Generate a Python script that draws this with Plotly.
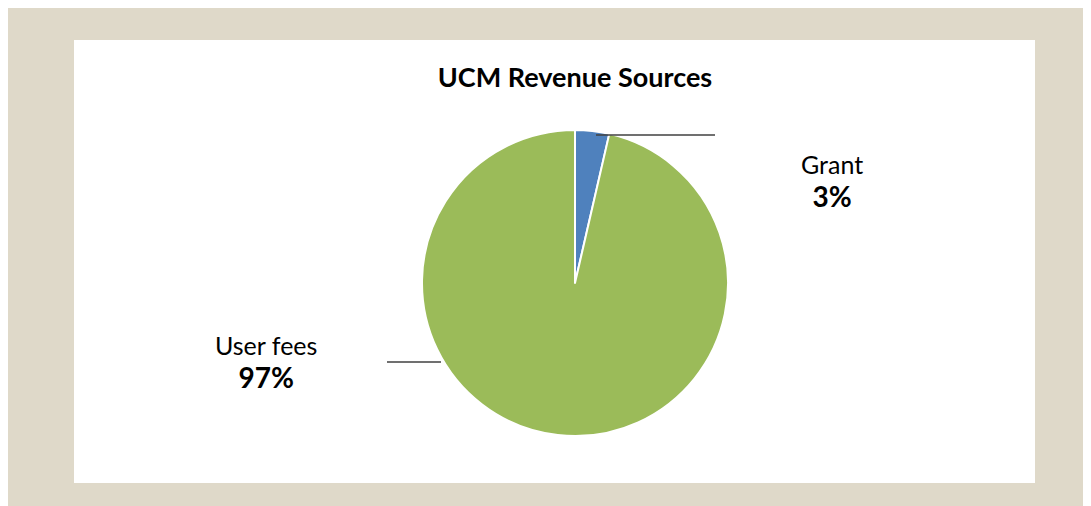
import plotly.graph_objects as go

# chart data
categories = ["Grant", "User fees"]
values = [3.6, 96.4]
pct_labels = ["3%", "97%"]
colors = ["#4F81BD", "#9BBB59"]

# page geometry (figure sits inside the default 8px body margin)
W, H = 1083, 498


def px_x(x):
    return (x - 8) / W


def px_y(y):
    return (8 + H - y) / H


fig = go.Figure(
    go.Pie(
        labels=categories,
        values=values,
        sort=False,
        direction="clockwise",
        rotation=0,
        textinfo="none",
        hoverinfo="label+percent",
        marker=dict(colors=colors, line=dict(color="white", width=2)),
        domain=dict(x=[px_x(422), px_x(728)], y=[px_y(436), px_y(130)]),
        showlegend=False,
    )
)

# white inner panel on the beige page
fig.add_shape(
    type="rect", xref="paper", yref="paper", layer="below",
    x0=px_x(74), x1=px_x(1035), y0=px_y(483), y1=px_y(40),
    fillcolor="white", line=dict(width=0),
)

# leader lines
leaders = [((596, 135), (715, 135)), ((387, 362), (441, 362))]
for (xa, ya), (xb, yb) in leaders:
    fig.add_shape(
        type="line", xref="paper", yref="paper",
        x0=px_x(xa), x1=px_x(xb), y0=px_y(ya), y1=px_y(yb),
        line=dict(color="#404040", width=1.3),
    )

# data labels
label_pos = [(832, 181), (266, 362)]
for name, pct, (lx, ly) in zip(categories, pct_labels, label_pos):
    fig.add_annotation(
        x=px_x(lx), y=px_y(ly), xref="paper", yref="paper",
        xanchor="center", yanchor="middle",
        text=f"{name}<br><span style='font-size:28px'><b>{pct}</b></span>",
        showarrow=False,
        font=dict(family="Lato", size=25, color="black"),
        align="center",
    )

fig.update_layout(
    width=W,
    height=H,
    margin=dict(l=0, r=0, t=0, b=0),
    paper_bgcolor="#DFD9C9",
    title=dict(
        text="<b>UCM Revenue Sources</b>",
        x=px_x(575), y=px_y(78), xanchor="center", yanchor="middle",
        font=dict(family="Lato", size=27, color="black"),
    ),
    font=dict(family="Lato"),
)

fig.write_html("out.html")
